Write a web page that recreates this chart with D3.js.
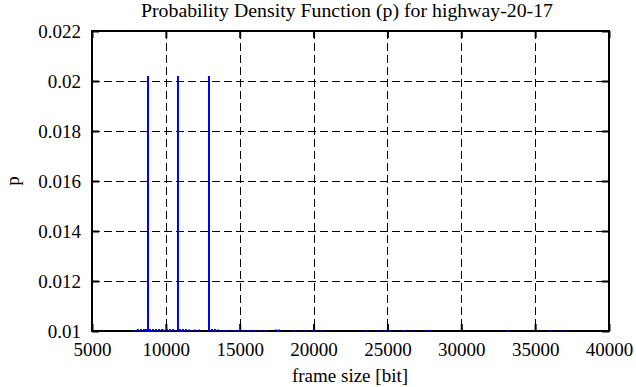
<!DOCTYPE html>
<html>
<head>
<meta charset="utf-8">
<script src="https://cdn.jsdelivr.net/npm/d3@7"></script>
<style>
  body { margin: 0; background: #fff; }
  svg { display: block; }
  text { font-family: "Liberation Serif", serif; fill: #000; }
</style>
</head>
<body>
<svg width="636" height="387"></svg>
<script>
// frame sizes (bit) and their probability
var frameSizes = [8790, 10820, 12920,
    7843, 8114, 8317, 8520, 8656, 8927, 9130, 9333, 9536, 9739, 9807,
    10078, 10281, 10484, 10958, 11161, 11364, 11567, 11973, 12244,
    13124, 13327, 13530, 13801, 14004, 14207, 14613, 14884, 15222,
    15561, 15764, 16035, 16373, 16712, 17457, 17660, 18675, 19352,
    20029, 20571, 23550, 24362, 24836, 25175, 26122, 26732, 27612,
    27950, 33163, 36074, 36886];
var probs = [0.0202, 0.0202, 0.0202,
    0.01004, 0.01008, 0.01008, 0.01008, 0.01008, 0.01008, 0.01008, 0.01008, 0.01008, 0.01008, 0.01006,
    0.01008, 0.01008, 0.01008, 0.01008, 0.01008, 0.01008, 0.01006, 0.01006, 0.01006,
    0.01008, 0.01008, 0.01006, 0.01004, 0.01004, 0.01004, 0.01004, 0.01004, 0.01004,
    0.01004, 0.01004, 0.01004, 0.01004, 0.01004, 0.01006, 0.01006, 0.01004, 0.01004,
    0.01004, 0.01004, 0.01004, 0.01004, 0.01004, 0.01004, 0.01004, 0.01004, 0.01004,
    0.01004, 0.01004, 0.01004, 0.01004];

var xTicks = [5000, 10000, 15000, 20000, 25000, 30000, 35000, 40000];
var yTicks = [0.01, 0.012, 0.014, 0.016, 0.018, 0.02, 0.022];

var data = frameSizes.map((s, i) => ({size: s, p: probs[i]}));

var plotLeft = 92, plotRight = 609, plotTop = 31, plotBottom = 331;

var xScale = d3.scaleLinear().domain([5000, 40000]).range([plotLeft, plotRight]);
var yScale = d3.scaleLinear().domain([0.01, 0.022]).range([plotBottom, plotTop]);

var svg = d3.select('svg');

// grid
svg.append("g")
    .selectAll("line")
    .data(xTicks.slice(1, -1))
    .join("line")
    .attr("x1", d => Math.round(xScale(d)) + 0.5).attr("x2", d => Math.round(xScale(d)) + 0.5)
    .attr("y1", plotTop).attr("y2", plotBottom)
    .attr("stroke", "#000").attr("stroke-width", 1)
    .attr("stroke-dasharray", "8,4");

svg.append("g")
    .selectAll("line")
    .data(yTicks.slice(1, -1))
    .join("line")
    .attr("x1", plotLeft).attr("x2", plotRight)
    .attr("y1", d => Math.round(yScale(d)) + 0.5).attr("y2", d => Math.round(yScale(d)) + 0.5)
    .attr("stroke", "#000").attr("stroke-width", 1)
    .attr("stroke-dasharray", "8,4");

// axes, ticks pointing inwards
var xAxis = d3.axisBottom(xScale).tickValues(xTicks).tickFormat(d3.format("d"))
    .tickSizeInner(-7).tickSizeOuter(0).tickPadding(12);
var yAxis = d3.axisLeft(yScale).tickValues(yTicks).tickFormat(d => +d.toFixed(3))
    .tickSizeInner(-7).tickSizeOuter(0).tickPadding(11);

function styleAxis(g) {
    g.select(".domain").remove();
    g.selectAll(".tick line").attr("stroke", "#000").attr("stroke-width", 2);
    g.selectAll(".tick text").style("font-size", "19px").attr("fill", "#000");
}

svg.append("g")
    .attr("transform", "translate(0," + plotBottom + ")")
    .call(xAxis).call(styleAxis);

svg.append("g")
    .attr("transform", "translate(" + plotLeft + ",0)")
    .call(yAxis).call(styleAxis);

svg.append("g")
    .attr("transform", "translate(0," + plotTop + ")")
    .call(d3.axisTop(xScale).tickValues(xTicks).tickFormat("").tickSizeInner(-7).tickSizeOuter(0))
    .call(styleAxis);

svg.append("g")
    .attr("transform", "translate(" + plotRight + ",0)")
    .call(d3.axisRight(yScale).tickValues(yTicks).tickFormat("").tickSizeInner(-7).tickSizeOuter(0))
    .call(styleAxis);

// border
svg.append("rect")
    .attr("x", plotLeft).attr("y", plotTop)
    .attr("width", plotRight - plotLeft).attr("height", plotBottom - plotTop)
    .attr("fill", "none").attr("stroke", "#000").attr("stroke-width", 2);

// impulses
svg.append("g")
    .selectAll("line")
    .data(data)
    .join("line")
    .attr("x1", d => xScale(d.size)).attr("x2", d => xScale(d.size))
    .attr("y1", yScale(0.01)).attr("y2", d => yScale(d.p))
    .attr("stroke", "#0000ff").attr("stroke-width", 2);

// labels
svg.append("text")
    .attr("x", 347).attr("y", 17)
    .attr("text-anchor", "middle")
    .attr("textLength", 412).attr("lengthAdjust", "spacingAndGlyphs")
    .style("font-size", "19px")
    .text("Probability Density Function (p) for highway-20-17");

svg.append("text")
    .attr("x", 350).attr("y", 382)
    .attr("text-anchor", "middle")
    .style("font-size", "19px")
    .text("frame size [bit]");

svg.append("text")
    .attr("transform", "translate(19,181) rotate(-90)")
    .attr("text-anchor", "middle")
    .style("font-size", "19px")
    .text("p");
</script>
</body>
</html>
